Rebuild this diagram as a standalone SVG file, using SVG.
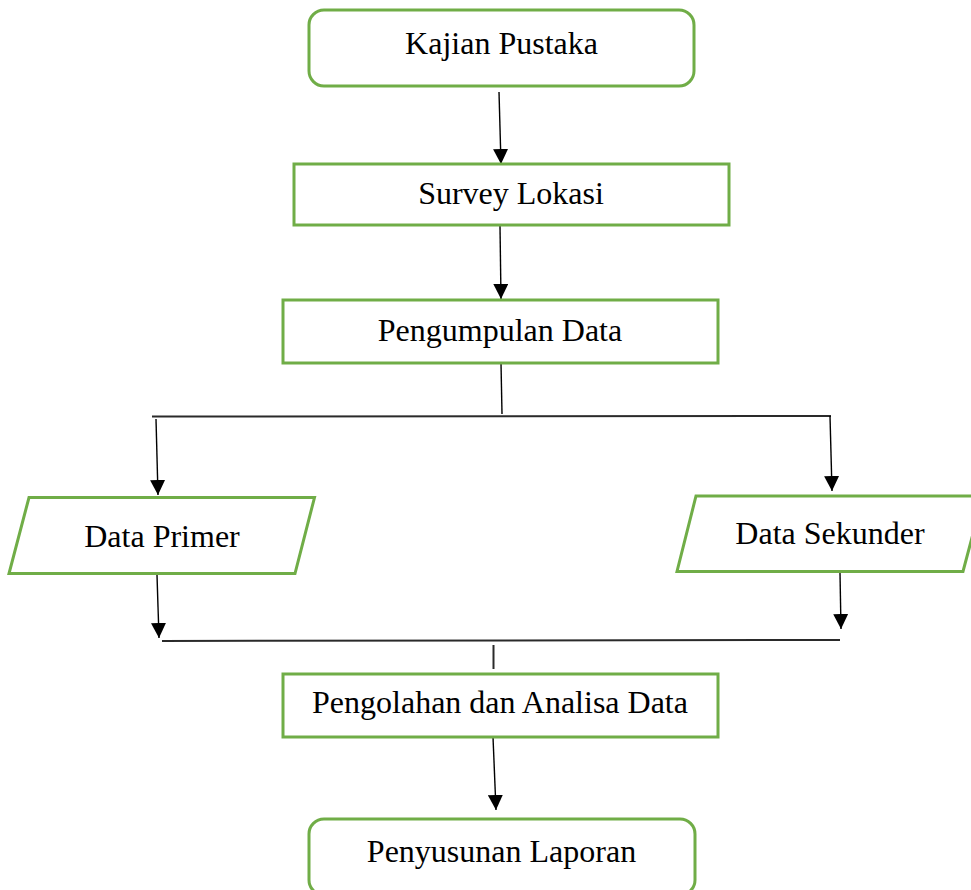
<svg xmlns="http://www.w3.org/2000/svg" width="971" height="890" viewBox="0 0 971 890">
<defs>
<marker id="arr" markerUnits="userSpaceOnUse" markerWidth="16" markerHeight="15" refX="15" refY="7.5" orient="auto">
<path d="M0,0 L15,7.5 L0,15 Z" fill="#000"/>
</marker>
<style>
.box{fill:#fff;stroke:#70AD47;stroke-width:3}
.lbl{font-family:"Liberation Serif","Times New Roman",serif;font-size:32px;fill:#000;text-anchor:middle}
.con{stroke:#000;stroke-width:1.4;fill:none}
.arr{marker-end:url(#arr)}
.bar{stroke:#2a2a2a;stroke-width:2;fill:none}
</style>
</defs>
<rect width="971" height="890" fill="#fff"/>
<g id="connectors">
<line class="con arr" x1="499" y1="92" x2="501" y2="164"/>
<line class="con arr" x1="500" y1="226" x2="501" y2="299"/>
<line class="con" x1="501" y1="363" x2="502" y2="414"/>
<line class="bar" x1="152" y1="416.5" x2="831" y2="416"/>
<line class="con arr" x1="156" y1="419" x2="158" y2="495"/>
<line class="con arr" x1="830" y1="416" x2="832" y2="491"/>
<line class="con arr" x1="157" y1="575" x2="159" y2="638"/>
<line class="con arr" x1="840" y1="573" x2="841" y2="629"/>
<line class="bar" x1="162" y1="641" x2="840" y2="640"/>
<line class="bar" x1="493.5" y1="645" x2="493.5" y2="669"/>
<line class="con arr" x1="493" y1="737" x2="496" y2="810"/>
</g>
<g id="kajian">
<rect class="box" x="309" y="10" width="385" height="76" rx="15"/>
<text class="lbl" x="501.5" y="54">Kajian Pustaka</text>
</g>
<g id="survey">
<rect class="box" x="294" y="164" width="435" height="61"/>
<text class="lbl" x="511" y="204">Survey Lokasi</text>
</g>
<g id="pengumpulan">
<rect class="box" x="283" y="300" width="435" height="63"/>
<text class="lbl" x="500" y="341">Pengumpulan Data</text>
</g>
<g id="primer">
<polygon class="box" points="29,497.5 314.5,497.5 295,573.5 9,573.5"/>
<text class="lbl" x="162" y="547">Data Primer</text>
</g>
<g id="sekunder">
<polygon class="box" points="696,496 983,496 963,571.5 677,571.5"/>
<text class="lbl" x="830" y="544">Data Sekunder</text>
</g>
<g id="pengolahan">
<rect class="box" x="283" y="674" width="435" height="63"/>
<text class="lbl" x="500" y="713">Pengolahan dan Analisa Data</text>
</g>
<g id="penyusunan">
<rect class="box" x="309" y="819" width="386" height="76" rx="15"/>
<text class="lbl" x="501.5" y="862">Penyusunan Laporan</text>
</g>
</svg>
